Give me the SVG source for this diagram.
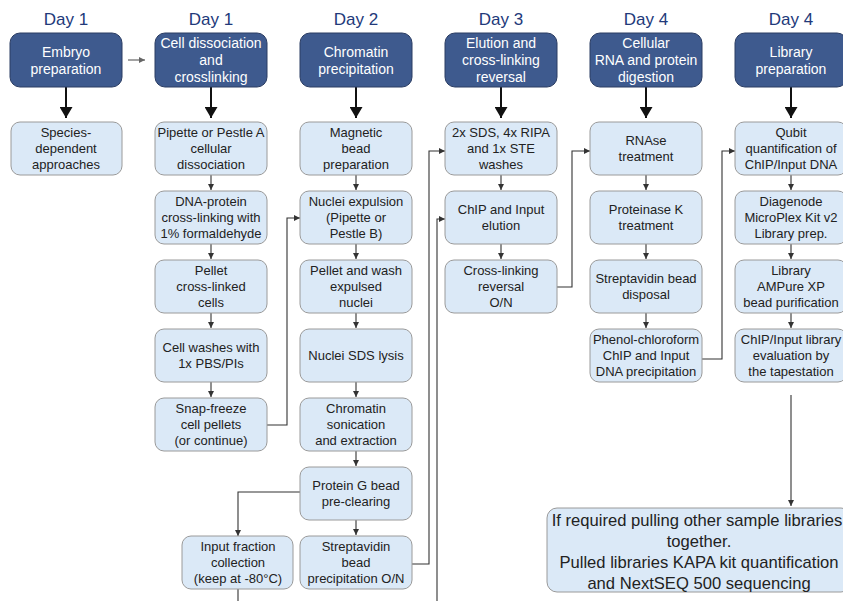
<svg xmlns="http://www.w3.org/2000/svg" width="843" height="601" viewBox="0 0 843 601">
<style>
.day{font-family:"Liberation Sans",Arial,sans-serif;font-size:17px;fill:#22397a;text-anchor:middle}
.hb{fill:#3e5a8e;stroke:#2b3d63;stroke-width:1}
.ht{font-family:"Liberation Sans",Arial,sans-serif;font-size:14px;fill:#ffffff;text-anchor:middle}
.sb{fill:#dbe9f7;stroke:#9a9a9a;stroke-width:1}
.st{font-family:"Liberation Sans",Arial,sans-serif;font-size:13px;fill:#222222;text-anchor:middle}
.ft{font-family:"Liberation Sans",Arial,sans-serif;font-size:16.6px;fill:#222222;text-anchor:middle}
.big{stroke:#111;stroke-width:2;fill:none}
.sm{stroke:#333;stroke-width:1.1;fill:none}
</style>
<defs>
<marker id="mb" markerUnits="userSpaceOnUse" markerWidth="13" markerHeight="13" refX="11" refY="6.5" orient="auto"><path d="M0,0 L11,6.5 L0,13 z" fill="#111"/></marker>
<marker id="ms" markerUnits="userSpaceOnUse" markerWidth="6" markerHeight="6" refX="6" refY="3" orient="auto"><path d="M0,0 L6,3 L0,6 z" fill="#333"/></marker>
<marker id="mg" markerUnits="userSpaceOnUse" markerWidth="6" markerHeight="6" refX="6" refY="3" orient="auto"><path d="M0,0 L6,3 L0,6 z" fill="#666"/></marker>
</defs>

<g id="days">
<text class="day" x="66" y="25">Day 1</text>
<text class="day" x="211" y="25">Day 1</text>
<text class="day" x="356" y="25">Day 2</text>
<text class="day" x="501" y="25">Day 3</text>
<text class="day" x="646" y="25">Day 4</text>
<text class="day" x="791" y="25">Day 4</text>
</g>

<g id="connectors">
<path class="big" d="M66,87 V118" marker-end="url(#mb)"/>
<path class="big" d="M211,87 V118" marker-end="url(#mb)"/>
<path class="big" d="M356,87 V118" marker-end="url(#mb)"/>
<path class="big" d="M501,87 V118" marker-end="url(#mb)"/>
<path class="big" d="M646,87 V118" marker-end="url(#mb)"/>
<path class="big" d="M791,87 V118" marker-end="url(#mb)"/>
<path d="M128,60 H145" stroke="#666" stroke-width="1.2" fill="none" marker-end="url(#mg)"/>
<path class="sm" d="M211,175 V190" marker-end="url(#ms)"/>
<path class="sm" d="M211,244 V259" marker-end="url(#ms)"/>
<path class="sm" d="M211,313 V328" marker-end="url(#ms)"/>
<path class="sm" d="M211,382 V397" marker-end="url(#ms)"/>
<path class="sm" d="M356,175 V190" marker-end="url(#ms)"/>
<path class="sm" d="M356,244 V259" marker-end="url(#ms)"/>
<path class="sm" d="M356,313 V328" marker-end="url(#ms)"/>
<path class="sm" d="M356,382 V397" marker-end="url(#ms)"/>
<path class="sm" d="M356,451 V466" marker-end="url(#ms)"/>
<path class="sm" d="M356,520 V535" marker-end="url(#ms)"/>
<path class="sm" d="M501,175 V190" marker-end="url(#ms)"/>
<path class="sm" d="M501,244 V259" marker-end="url(#ms)"/>
<path class="sm" d="M646,175 V190" marker-end="url(#ms)"/>
<path class="sm" d="M646,244 V259" marker-end="url(#ms)"/>
<path class="sm" d="M646,313 V328" marker-end="url(#ms)"/>
<path class="sm" d="M791,175 V190" marker-end="url(#ms)"/>
<path class="sm" d="M791,244 V259" marker-end="url(#ms)"/>
<path class="sm" d="M791,313 V328" marker-end="url(#ms)"/>
<path class="sm" d="M267,425 H287 V218 H300" marker-end="url(#ms)"/>
<path class="sm" d="M300,492 H238 V536" marker-end="url(#ms)"/>
<path class="sm" d="M238,589 V612 H437 V219 H445" marker-end="url(#ms)"/>
<path class="sm" d="M412,564 H429 V151 H445" marker-end="url(#ms)"/>
<path class="sm" d="M557,287 H572 V151 H590" marker-end="url(#ms)"/>
<path class="sm" d="M702,359 H722 V151 H735" marker-end="url(#ms)"/>
<path class="sm" d="M791,395 V506" marker-end="url(#ms)"/>
</g>

<g id="h1"><rect class="hb" x="10" y="33" width="112" height="54" rx="10"/><text class="ht" x="66" y="56.5">Embryo</text><text class="ht" x="66" y="73.5">preparation</text></g>
<g id="h2"><rect class="hb" x="155" y="33" width="112" height="54" rx="10"/><text class="ht" x="211" y="48">Cell dissociation</text><text class="ht" x="211" y="65">and</text><text class="ht" x="211" y="82">crosslinking</text></g>
<g id="h3"><rect class="hb" x="300" y="33" width="112" height="54" rx="10"/><text class="ht" x="356" y="56.5">Chromatin</text><text class="ht" x="356" y="73.5">precipitation</text></g>
<g id="h4"><rect class="hb" x="445" y="33" width="112" height="54" rx="10"/><text class="ht" x="501" y="48">Elution and</text><text class="ht" x="501" y="65">cross-linking</text><text class="ht" x="501" y="82">reversal</text></g>
<g id="h5"><rect class="hb" x="590" y="33" width="112" height="54" rx="10"/><text class="ht" x="646" y="48">Cellular</text><text class="ht" x="646" y="65">RNA and protein</text><text class="ht" x="646" y="82">digestion</text></g>
<g id="h6"><rect class="hb" x="735" y="33" width="112" height="54" rx="10"/><text class="ht" x="791" y="56.5">Library</text><text class="ht" x="791" y="73.5">preparation</text></g>

<g id="n1a"><rect class="sb" x="11" y="122" width="111" height="53" rx="9"/><text class="st" x="66" y="137">Species-</text><text class="st" x="66" y="153">dependent</text><text class="st" x="66" y="169">approaches</text></g>

<g id="n2a"><rect class="sb" x="155" y="122" width="112" height="53" rx="9"/><text class="st" x="211" y="137">Pipette or Pestle A</text><text class="st" x="211" y="153">cellular</text><text class="st" x="211" y="169">dissociation</text></g>
<g id="n2b"><rect class="sb" x="155" y="191" width="112" height="53" rx="9"/><text class="st" x="211" y="206">DNA-protein</text><text class="st" x="211" y="222">cross-linking with</text><text class="st" x="211" y="238">1% formaldehyde</text></g>
<g id="n2c"><rect class="sb" x="155" y="260" width="112" height="53" rx="9"/><text class="st" x="211" y="275">Pellet</text><text class="st" x="211" y="291">cross-linked</text><text class="st" x="211" y="307">cells</text></g>
<g id="n2d"><rect class="sb" x="155" y="329" width="112" height="53" rx="9"/><text class="st" x="211" y="352">Cell washes with</text><text class="st" x="211" y="368">1x PBS/PIs</text></g>
<g id="n2e"><rect class="sb" x="155" y="398" width="112" height="53" rx="9"/><text class="st" x="211" y="413">Snap-freeze</text><text class="st" x="211" y="429">cell pellets</text><text class="st" x="211" y="445">(or continue)</text></g>

<g id="n3a"><rect class="sb" x="300" y="122" width="112" height="53" rx="9"/><text class="st" x="356" y="137">Magnetic</text><text class="st" x="356" y="153">bead</text><text class="st" x="356" y="169">preparation</text></g>
<g id="n3b"><rect class="sb" x="300" y="191" width="112" height="53" rx="9"/><text class="st" x="356" y="206">Nuclei expulsion</text><text class="st" x="356" y="222">(Pipette or</text><text class="st" x="356" y="238">Pestle B)</text></g>
<g id="n3c"><rect class="sb" x="300" y="260" width="112" height="53" rx="9"/><text class="st" x="356" y="275">Pellet and wash</text><text class="st" x="356" y="291">expulsed</text><text class="st" x="356" y="307">nuclei</text></g>
<g id="n3d"><rect class="sb" x="300" y="329" width="112" height="53" rx="9"/><text class="st" x="356" y="360">Nuclei SDS lysis</text></g>
<g id="n3e"><rect class="sb" x="300" y="398" width="112" height="53" rx="9"/><text class="st" x="356" y="413">Chromatin</text><text class="st" x="356" y="429">sonication</text><text class="st" x="356" y="445">and extraction</text></g>
<g id="n3f"><rect class="sb" x="300" y="467" width="112" height="53" rx="9"/><text class="st" x="356" y="490">Protein G bead</text><text class="st" x="356" y="506">pre-clearing</text></g>
<g id="n3g"><rect class="sb" x="300" y="536" width="112" height="53" rx="9"/><text class="st" x="356" y="551">Streptavidin</text><text class="st" x="356" y="567">bead</text><text class="st" x="356" y="583">precipitation O/N</text></g>
<g id="n3h"><rect class="sb" x="182" y="536" width="111" height="53" rx="9"/><text class="st" x="238" y="551">Input fraction</text><text class="st" x="238" y="567">collection</text><text class="st" x="238" y="583">(keep at -80°C)</text></g>

<g id="n4a"><rect class="sb" x="445" y="122" width="112" height="53" rx="9"/><text class="st" x="501" y="137">2x SDS, 4x RIPA</text><text class="st" x="501" y="153">and 1x STE</text><text class="st" x="501" y="169">washes</text></g>
<g id="n4b"><rect class="sb" x="445" y="191" width="112" height="53" rx="9"/><text class="st" x="501" y="214">ChIP and Input</text><text class="st" x="501" y="230">elution</text></g>
<g id="n4c"><rect class="sb" x="445" y="260" width="112" height="53" rx="9"/><text class="st" x="501" y="275">Cross-linking</text><text class="st" x="501" y="291">reversal</text><text class="st" x="501" y="307">O/N</text></g>

<g id="n5a"><rect class="sb" x="590" y="122" width="112" height="53" rx="9"/><text class="st" x="646" y="145">RNAse</text><text class="st" x="646" y="161">treatment</text></g>
<g id="n5b"><rect class="sb" x="590" y="191" width="112" height="53" rx="9"/><text class="st" x="646" y="214">Proteinase K</text><text class="st" x="646" y="230">treatment</text></g>
<g id="n5c"><rect class="sb" x="590" y="260" width="112" height="53" rx="9"/><text class="st" x="646" y="283">Streptavidin bead</text><text class="st" x="646" y="299">disposal</text></g>
<g id="n5d"><rect class="sb" x="590" y="329" width="112" height="53" rx="9"/><text class="st" x="646" y="344">Phenol-chloroform</text><text class="st" x="646" y="360">ChIP and Input</text><text class="st" x="646" y="376">DNA precipitation</text></g>

<g id="n6a"><rect class="sb" x="735" y="122" width="112" height="53" rx="9"/><text class="st" x="791" y="137">Qubit</text><text class="st" x="791" y="153">quantification of</text><text class="st" x="791" y="169">ChIP/Input DNA</text></g>
<g id="n6b"><rect class="sb" x="735" y="191" width="112" height="53" rx="9"/><text class="st" x="791" y="206">Diagenode</text><text class="st" x="791" y="222">MicroPlex Kit v2</text><text class="st" x="791" y="238">Library prep.</text></g>
<g id="n6c"><rect class="sb" x="735" y="260" width="112" height="53" rx="9"/><text class="st" x="791" y="275">Library</text><text class="st" x="791" y="291">AMPure XP</text><text class="st" x="791" y="307">bead purification</text></g>
<g id="n6d"><rect class="sb" x="735" y="329" width="112" height="53" rx="9"/><text class="st" x="791" y="344">ChIP/Input library</text><text class="st" x="791" y="360">evaluation by</text><text class="st" x="791" y="376">the tapestation</text></g>

<g id="final"><rect class="sb" x="547" y="508" width="304" height="84" rx="10"/><text class="ft" x="697" y="526">If required pulling other sample libraries</text><text class="ft" x="699" y="547">together.</text><text class="ft" x="699" y="568">Pulled libraries KAPA kit quantification</text><text class="ft" x="699" y="589">and NextSEQ 500 sequencing</text></g>
</svg>
